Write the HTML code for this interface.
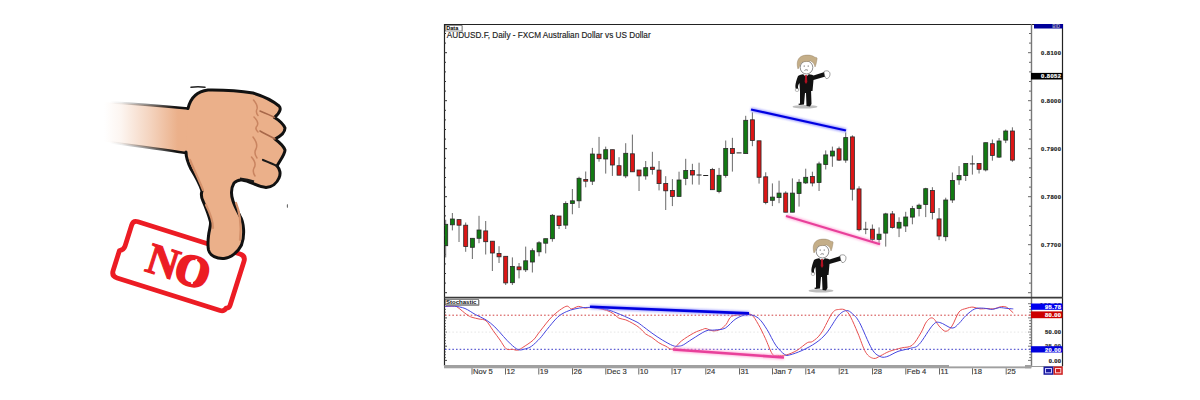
<!DOCTYPE html>
<html><head><meta charset="utf-8">
<style>
html,body{margin:0;padding:0;background:#fff;width:1200px;height:400px;overflow:hidden}
svg{display:block;font-family:"Liberation Sans",sans-serif}
</style></head><body>
<svg width="1200" height="400" viewBox="0 0 1200 400">
<defs>
<linearGradient id="arm" x1="104" y1="0" x2="188" y2="0" gradientUnits="userSpaceOnUse">
<stop offset="0" stop-color="#ebb08a" stop-opacity="0"/>
<stop offset="0.2" stop-color="#ebb08a" stop-opacity="0.12"/>
<stop offset="0.55" stop-color="#ebb08a" stop-opacity="0.55"/>
<stop offset="0.88" stop-color="#ebb08a" stop-opacity="1"/>
<stop offset="1" stop-color="#ebb08a" stop-opacity="1"/>
</linearGradient>
<linearGradient id="armline" x1="110" y1="0" x2="188" y2="0" gradientUnits="userSpaceOnUse">
<stop offset="0" stop-color="#111" stop-opacity="0"/>
<stop offset="0.15" stop-color="#111" stop-opacity="0.08"/>
<stop offset="0.5" stop-color="#111" stop-opacity="0.5"/>
<stop offset="0.85" stop-color="#111" stop-opacity="1"/>
<stop offset="1" stop-color="#111" stop-opacity="1"/>
</linearGradient>
<filter id="glow" x="-5%" y="-50%" width="110%" height="200%"><feGaussianBlur stdDeviation="1.2"/></filter>
<clipPath id="plot"><rect x="445" y="25" width="586" height="272"/></clipPath>
<clipPath id="stoch"><rect x="445" y="299" width="586" height="66"/></clipPath>
</defs>

<!-- ===== STAMP ===== -->
<g transform="translate(179.5,266.3) rotate(17.5)">
<path d="M-53,-30 L54,-30 Q60,-30 60,-24 L60,22 Q60,25 57,26 Q56,30 52,30 L-56,30 Q-62,30 -62,24 L-62,3 Q-58,1 -58,-3 L-58,-25 Q-58,-30 -53,-30 Z" fill="none" stroke="#ec1c24" stroke-width="4.8" stroke-linejoin="round"/>
<text x="-2" y="15" text-anchor="middle" font-family="Liberation Serif" font-weight="bold" font-size="44" letter-spacing="-2" fill="#ec1c24" stroke="#ec1c24" stroke-width="1.1">N<tspan stroke-width="2.6">O</tspan></text>
<line x1="14" y1="-12" x2="17" y2="13" stroke="#fff" stroke-width="1.8"/>
</g>
<!-- ===== HAND ===== -->
<g id="hand">
<path d="M100,102 C130,103.5 160,105.5 188,108 L188,153 C160,149 130,145 100,141 Z" fill="url(#arm)"/>
<path d="M106,102.3 C130,103.5 160,105.8 188,108.5" fill="none" stroke="url(#armline)" stroke-width="2.6"/>
<path d="M106,141.8 C130,145 160,149 186,153" fill="none" stroke="url(#armline)" stroke-width="2.6"/>
<path d="M188,108.5 C190,100 195,91.5 208,90 C225,89.8 241,91 253,93 C263,96 272,100 279,106 C281,108 281,112 274.5,117.5 C279,120 284,125 285,128 C285,131 283,135 275,139 C279,142 284,147 285,150 C285,154 281,159 277,166 C280,169 281,174 279,178 C277,183 272,187 266,187.5 C258,187 250,181 242,180 C238,179.5 236,181 234,183 C231,188 231,195 233,201 C235,207 238,212 240,216 C244,222 245,236 241.5,245 C238,252 231,258 224,258.5 C217,259 210,256 208.5,250 C207.5,245 208,240 208.5,236 C209,230 211,226 210.5,222 C209,216 206,208 203,201 C201,197 201,194 202,191 C200,185 196,177 191,169 C188,163 186,158 186,152" fill="#ebb08a" stroke="#111" stroke-width="3" stroke-linejoin="round" stroke-linecap="round"/>
<path d="M190,160 C194,170 199,180 203,190 M206,205 C210,213 213,220 213,228 M236,203 C239,210 242,224 240,240" fill="none" stroke="#d4916b" stroke-width="2.2" stroke-linecap="round"/>
<path d="M240,178.5 C245,179 250,180 254,181.5" fill="none" stroke="#1a1a1a" stroke-width="2"/>
<path d="M253.5,100 C256,103 258,106 257,109 C256,111 256,113 258,115.5 M254,117 C257,120 259,123 257,126 C255,128 256,130 258,132 M253,137 C256,141 258,145 256,149 C254,152 255,155 257,158 M251.5,157 C255,161 256,165 254,168 C252.5,171 253,173 255,176" fill="none" stroke="#c98460" stroke-width="1.5" stroke-linecap="round"/>
<path d="M260,111 C265,113 270,115 274.5,117.5 M260,131 C265,134 270,136 275,139" fill="none" stroke="#a8684a" stroke-width="1.5" stroke-linecap="round"/>
<path d="M263,160 C268,162 273,164 277,166" fill="none" stroke="#1a1a1a" stroke-width="2.2" stroke-linecap="round"/>
<path d="M191,87.3 C196,86.5 200,86.5 205,87.3" stroke="#222" stroke-width="1.4" fill="none" stroke-linecap="round"/>

</g>

<ellipse cx="287.4" cy="206" rx="0.6" ry="2" fill="#666"/>
<!-- ===== CHART ===== -->
<g id="chart">
<!-- frame -->
<line x1="444" y1="24.5" x2="1063" y2="24.5" stroke="#222" stroke-width="1"/>
<line x1="444.5" y1="24" x2="444.5" y2="366" stroke="#222" stroke-width="1.2"/>
<line x1="1031.5" y1="24" x2="1031.5" y2="366" stroke="#777" stroke-width="1.4"/>
<line x1="1062.5" y1="24" x2="1062.5" y2="366" stroke="#222" stroke-width="1.2"/>
<line x1="444" y1="297.7" x2="1063" y2="297.7" stroke="#3a3a3a" stroke-width="1.7"/>
<rect x="444" y="365" width="505" height="3.3" fill="#a0a0a0"/><rect x="949" y="366.4" width="82" height="1.9" fill="#a0a0a0"/><rect x="1025" y="365" width="6.5" height="3.3" fill="#a0a0a0"/><line x1="1031" y1="366.5" x2="1063" y2="366.5" stroke="#999" stroke-width="1"/>
<line x1="444" y1="33.5" x2="446" y2="33.5" stroke="#333" stroke-width="1"/>
<line x1="1029" y1="33.5" x2="1031" y2="33.5" stroke="#666" stroke-width="1"/>
<line x1="444" y1="43.1" x2="446" y2="43.1" stroke="#333" stroke-width="1"/>
<line x1="1029" y1="43.1" x2="1031" y2="43.1" stroke="#666" stroke-width="1"/>
<line x1="444" y1="52.7" x2="447" y2="52.7" stroke="#333" stroke-width="1"/>
<line x1="1028" y1="52.7" x2="1031" y2="52.7" stroke="#666" stroke-width="1"/>
<line x1="444" y1="62.3" x2="446" y2="62.3" stroke="#333" stroke-width="1"/>
<line x1="1029" y1="62.3" x2="1031" y2="62.3" stroke="#666" stroke-width="1"/>
<line x1="444" y1="71.9" x2="446" y2="71.9" stroke="#333" stroke-width="1"/>
<line x1="1029" y1="71.9" x2="1031" y2="71.9" stroke="#666" stroke-width="1"/>
<line x1="444" y1="81.5" x2="446" y2="81.5" stroke="#333" stroke-width="1"/>
<line x1="1029" y1="81.5" x2="1031" y2="81.5" stroke="#666" stroke-width="1"/>
<line x1="444" y1="91.1" x2="446" y2="91.1" stroke="#333" stroke-width="1"/>
<line x1="1029" y1="91.1" x2="1031" y2="91.1" stroke="#666" stroke-width="1"/>
<line x1="444" y1="100.7" x2="447" y2="100.7" stroke="#333" stroke-width="1"/>
<line x1="1028" y1="100.7" x2="1031" y2="100.7" stroke="#666" stroke-width="1"/>
<line x1="444" y1="110.3" x2="446" y2="110.3" stroke="#333" stroke-width="1"/>
<line x1="1029" y1="110.3" x2="1031" y2="110.3" stroke="#666" stroke-width="1"/>
<line x1="444" y1="119.9" x2="446" y2="119.9" stroke="#333" stroke-width="1"/>
<line x1="1029" y1="119.9" x2="1031" y2="119.9" stroke="#666" stroke-width="1"/>
<line x1="444" y1="129.5" x2="446" y2="129.5" stroke="#333" stroke-width="1"/>
<line x1="1029" y1="129.5" x2="1031" y2="129.5" stroke="#666" stroke-width="1"/>
<line x1="444" y1="139.1" x2="446" y2="139.1" stroke="#333" stroke-width="1"/>
<line x1="1029" y1="139.1" x2="1031" y2="139.1" stroke="#666" stroke-width="1"/>
<line x1="444" y1="148.7" x2="447" y2="148.7" stroke="#333" stroke-width="1"/>
<line x1="1028" y1="148.7" x2="1031" y2="148.7" stroke="#666" stroke-width="1"/>
<line x1="444" y1="158.3" x2="446" y2="158.3" stroke="#333" stroke-width="1"/>
<line x1="1029" y1="158.3" x2="1031" y2="158.3" stroke="#666" stroke-width="1"/>
<line x1="444" y1="167.9" x2="446" y2="167.9" stroke="#333" stroke-width="1"/>
<line x1="1029" y1="167.9" x2="1031" y2="167.9" stroke="#666" stroke-width="1"/>
<line x1="444" y1="177.5" x2="446" y2="177.5" stroke="#333" stroke-width="1"/>
<line x1="1029" y1="177.5" x2="1031" y2="177.5" stroke="#666" stroke-width="1"/>
<line x1="444" y1="187.1" x2="446" y2="187.1" stroke="#333" stroke-width="1"/>
<line x1="1029" y1="187.1" x2="1031" y2="187.1" stroke="#666" stroke-width="1"/>
<line x1="444" y1="196.7" x2="447" y2="196.7" stroke="#333" stroke-width="1"/>
<line x1="1028" y1="196.7" x2="1031" y2="196.7" stroke="#666" stroke-width="1"/>
<line x1="444" y1="206.3" x2="446" y2="206.3" stroke="#333" stroke-width="1"/>
<line x1="1029" y1="206.3" x2="1031" y2="206.3" stroke="#666" stroke-width="1"/>
<line x1="444" y1="215.9" x2="446" y2="215.9" stroke="#333" stroke-width="1"/>
<line x1="1029" y1="215.9" x2="1031" y2="215.9" stroke="#666" stroke-width="1"/>
<line x1="444" y1="225.5" x2="446" y2="225.5" stroke="#333" stroke-width="1"/>
<line x1="1029" y1="225.5" x2="1031" y2="225.5" stroke="#666" stroke-width="1"/>
<line x1="444" y1="235.1" x2="446" y2="235.1" stroke="#333" stroke-width="1"/>
<line x1="1029" y1="235.1" x2="1031" y2="235.1" stroke="#666" stroke-width="1"/>
<line x1="444" y1="244.7" x2="447" y2="244.7" stroke="#333" stroke-width="1"/>
<line x1="1028" y1="244.7" x2="1031" y2="244.7" stroke="#666" stroke-width="1"/>
<line x1="444" y1="254.3" x2="446" y2="254.3" stroke="#333" stroke-width="1"/>
<line x1="1029" y1="254.3" x2="1031" y2="254.3" stroke="#666" stroke-width="1"/>
<line x1="444" y1="263.9" x2="446" y2="263.9" stroke="#333" stroke-width="1"/>
<line x1="1029" y1="263.9" x2="1031" y2="263.9" stroke="#666" stroke-width="1"/>
<line x1="444" y1="273.5" x2="446" y2="273.5" stroke="#333" stroke-width="1"/>
<line x1="1029" y1="273.5" x2="1031" y2="273.5" stroke="#666" stroke-width="1"/>
<line x1="444" y1="283.1" x2="446" y2="283.1" stroke="#333" stroke-width="1"/>
<line x1="1029" y1="283.1" x2="1031" y2="283.1" stroke="#666" stroke-width="1"/>
<line x1="444" y1="292.7" x2="447" y2="292.7" stroke="#333" stroke-width="1"/>
<line x1="1028" y1="292.7" x2="1031" y2="292.7" stroke="#666" stroke-width="1"/>
<line x1="444" y1="303.7" x2="447" y2="303.7" stroke="#333" stroke-width="0.9"/>
<line x1="1028" y1="303.7" x2="1031" y2="303.7" stroke="#666" stroke-width="0.9"/>
<line x1="444" y1="306.5" x2="445.8" y2="306.5" stroke="#333" stroke-width="0.9"/>
<line x1="1029.2" y1="306.5" x2="1031" y2="306.5" stroke="#666" stroke-width="0.9"/>
<line x1="444" y1="309.4" x2="445.8" y2="309.4" stroke="#333" stroke-width="0.9"/>
<line x1="1029.2" y1="309.4" x2="1031" y2="309.4" stroke="#666" stroke-width="0.9"/>
<line x1="444" y1="312.2" x2="445.8" y2="312.2" stroke="#333" stroke-width="0.9"/>
<line x1="1029.2" y1="312.2" x2="1031" y2="312.2" stroke="#666" stroke-width="0.9"/>
<line x1="444" y1="315.0" x2="445.8" y2="315.0" stroke="#333" stroke-width="0.9"/>
<line x1="1029.2" y1="315.0" x2="1031" y2="315.0" stroke="#666" stroke-width="0.9"/>
<line x1="444" y1="317.9" x2="447" y2="317.9" stroke="#333" stroke-width="0.9"/>
<line x1="1028" y1="317.9" x2="1031" y2="317.9" stroke="#666" stroke-width="0.9"/>
<line x1="444" y1="320.7" x2="445.8" y2="320.7" stroke="#333" stroke-width="0.9"/>
<line x1="1029.2" y1="320.7" x2="1031" y2="320.7" stroke="#666" stroke-width="0.9"/>
<line x1="444" y1="323.5" x2="445.8" y2="323.5" stroke="#333" stroke-width="0.9"/>
<line x1="1029.2" y1="323.5" x2="1031" y2="323.5" stroke="#666" stroke-width="0.9"/>
<line x1="444" y1="326.4" x2="445.8" y2="326.4" stroke="#333" stroke-width="0.9"/>
<line x1="1029.2" y1="326.4" x2="1031" y2="326.4" stroke="#666" stroke-width="0.9"/>
<line x1="444" y1="329.2" x2="445.8" y2="329.2" stroke="#333" stroke-width="0.9"/>
<line x1="1029.2" y1="329.2" x2="1031" y2="329.2" stroke="#666" stroke-width="0.9"/>
<line x1="444" y1="332.1" x2="447" y2="332.1" stroke="#333" stroke-width="0.9"/>
<line x1="1028" y1="332.1" x2="1031" y2="332.1" stroke="#666" stroke-width="0.9"/>
<line x1="444" y1="334.9" x2="445.8" y2="334.9" stroke="#333" stroke-width="0.9"/>
<line x1="1029.2" y1="334.9" x2="1031" y2="334.9" stroke="#666" stroke-width="0.9"/>
<line x1="444" y1="337.7" x2="445.8" y2="337.7" stroke="#333" stroke-width="0.9"/>
<line x1="1029.2" y1="337.7" x2="1031" y2="337.7" stroke="#666" stroke-width="0.9"/>
<line x1="444" y1="340.6" x2="445.8" y2="340.6" stroke="#333" stroke-width="0.9"/>
<line x1="1029.2" y1="340.6" x2="1031" y2="340.6" stroke="#666" stroke-width="0.9"/>
<line x1="444" y1="343.4" x2="445.8" y2="343.4" stroke="#333" stroke-width="0.9"/>
<line x1="1029.2" y1="343.4" x2="1031" y2="343.4" stroke="#666" stroke-width="0.9"/>
<line x1="444" y1="346.2" x2="447" y2="346.2" stroke="#333" stroke-width="0.9"/>
<line x1="1028" y1="346.2" x2="1031" y2="346.2" stroke="#666" stroke-width="0.9"/>
<line x1="444" y1="349.1" x2="445.8" y2="349.1" stroke="#333" stroke-width="0.9"/>
<line x1="1029.2" y1="349.1" x2="1031" y2="349.1" stroke="#666" stroke-width="0.9"/>
<line x1="444" y1="351.9" x2="445.8" y2="351.9" stroke="#333" stroke-width="0.9"/>
<line x1="1029.2" y1="351.9" x2="1031" y2="351.9" stroke="#666" stroke-width="0.9"/>
<line x1="444" y1="354.7" x2="445.8" y2="354.7" stroke="#333" stroke-width="0.9"/>
<line x1="1029.2" y1="354.7" x2="1031" y2="354.7" stroke="#666" stroke-width="0.9"/>
<line x1="444" y1="357.6" x2="445.8" y2="357.6" stroke="#333" stroke-width="0.9"/>
<line x1="1029.2" y1="357.6" x2="1031" y2="357.6" stroke="#666" stroke-width="0.9"/>
<line x1="444" y1="360.4" x2="447" y2="360.4" stroke="#333" stroke-width="0.9"/>
<line x1="1028" y1="360.4" x2="1031" y2="360.4" stroke="#666" stroke-width="0.9"/>
<!-- Data box -->
<rect x="445.5" y="25.5" width="16.5" height="5.5" fill="#fff" stroke="#666" stroke-width="0.7"/>
<line x1="462.5" y1="26" x2="462.5" y2="31.5" stroke="#999" stroke-width="0.8"/>
<text x="446.2" y="30.3" font-size="5.6" font-weight="bold" fill="#000">Data</text>
<text x="446.8" y="38" font-size="8.2" fill="#222" stroke="#222" stroke-width="0.15">AUDUSD.F, Daily - FXCM Australian Dollar vs US Dollar</text>
<!-- price labels -->
<rect x="1034" y="24" width="29" height="4.5" fill="#000099"/>
<text x="1060" y="28.2" font-size="4.5" font-weight="bold" fill="#aab" text-anchor="end">BID</text>
<g font-size="5.8" font-weight="bold" fill="#222" text-anchor="end" stroke="#222" stroke-width="0.2">
<text x="1061" y="54.7" textLength="20" lengthAdjust="spacing">0.8100</text>
<text x="1061" y="102.7" textLength="20" lengthAdjust="spacing">0.8000</text>
<text x="1061" y="150.7" textLength="20" lengthAdjust="spacing">0.7900</text>
<text x="1061" y="198.7" textLength="20" lengthAdjust="spacing">0.7800</text>
<text x="1061" y="246.7" textLength="20" lengthAdjust="spacing">0.7700</text>
</g>
<rect x="1031" y="72.9" width="31.5" height="6.6" fill="#000"/>
<text x="1061" y="78.4" font-size="5.8" font-weight="bold" fill="#fff" stroke="#fff" stroke-width="0.2" text-anchor="end" textLength="20" lengthAdjust="spacing">0.8052</text>

<g clip-path="url(#plot)">
<line x1="445.70" y1="219.8" x2="445.70" y2="257.4" stroke="#6a6a6a" stroke-width="1"/>
<rect x="443.70" y="224.3" width="4" height="21.4" fill="#127a12" stroke="#2a2a2a" stroke-width="0.8"/>
<line x1="452.37" y1="213.0" x2="452.37" y2="230.4" stroke="#6a6a6a" stroke-width="1"/>
<rect x="450.37" y="219.0" width="4" height="5.8" fill="#127a12" stroke="#2a2a2a" stroke-width="0.8"/>
<line x1="459.03" y1="219.6" x2="459.03" y2="242.0" stroke="#6a6a6a" stroke-width="1"/>
<rect x="457.03" y="219.6" width="4" height="5.6" fill="#dc1616" stroke="#2a2a2a" stroke-width="0.8"/>
<line x1="465.70" y1="222.5" x2="465.70" y2="251.8" stroke="#6a6a6a" stroke-width="1"/>
<rect x="463.70" y="225.2" width="4" height="21.4" fill="#dc1616" stroke="#2a2a2a" stroke-width="0.8"/>
<line x1="472.37" y1="238.3" x2="472.37" y2="259.0" stroke="#6a6a6a" stroke-width="1"/>
<rect x="470.37" y="238.3" width="4" height="9.0" fill="#127a12" stroke="#2a2a2a" stroke-width="0.8"/>
<line x1="479.03" y1="215.8" x2="479.03" y2="243.2" stroke="#6a6a6a" stroke-width="1"/>
<rect x="477.03" y="230.0" width="4" height="8.3" fill="#127a12" stroke="#2a2a2a" stroke-width="0.8"/>
<line x1="485.70" y1="221.0" x2="485.70" y2="254.5" stroke="#6a6a6a" stroke-width="1"/>
<rect x="483.70" y="230.9" width="4" height="10.8" fill="#dc1616" stroke="#2a2a2a" stroke-width="0.8"/>
<line x1="492.37" y1="241.0" x2="492.37" y2="271.0" stroke="#6a6a6a" stroke-width="1"/>
<rect x="490.37" y="241.2" width="4" height="11.8" fill="#dc1616" stroke="#2a2a2a" stroke-width="0.8"/>
<line x1="499.04" y1="246.2" x2="499.04" y2="263.0" stroke="#6a6a6a" stroke-width="1"/>
<rect x="497.04" y="253.4" width="4" height="3.4" fill="#dc1616" stroke="#2a2a2a" stroke-width="0.8"/>
<line x1="505.70" y1="256.3" x2="505.70" y2="285.0" stroke="#6a6a6a" stroke-width="1"/>
<rect x="503.70" y="256.3" width="4" height="26.6" fill="#dc1616" stroke="#2a2a2a" stroke-width="0.8"/>
<line x1="512.37" y1="257.4" x2="512.37" y2="285.0" stroke="#6a6a6a" stroke-width="1"/>
<rect x="510.37" y="266.4" width="4" height="16.3" fill="#127a12" stroke="#2a2a2a" stroke-width="0.8"/>
<line x1="519.04" y1="263.0" x2="519.04" y2="278.4" stroke="#6a6a6a" stroke-width="1"/>
<rect x="517.04" y="266.9" width="4" height="2.9" fill="#dc1616" stroke="#2a2a2a" stroke-width="0.8"/>
<line x1="525.70" y1="246.6" x2="525.70" y2="272.0" stroke="#6a6a6a" stroke-width="1"/>
<rect x="523.70" y="260.8" width="4" height="9.0" fill="#127a12" stroke="#2a2a2a" stroke-width="0.8"/>
<line x1="532.37" y1="248.4" x2="532.37" y2="272.5" stroke="#6a6a6a" stroke-width="1"/>
<rect x="530.37" y="250.7" width="4" height="11.3" fill="#127a12" stroke="#2a2a2a" stroke-width="0.8"/>
<line x1="539.04" y1="241.2" x2="539.04" y2="256.3" stroke="#6a6a6a" stroke-width="1"/>
<rect x="537.04" y="242.8" width="4" height="9.0" fill="#127a12" stroke="#2a2a2a" stroke-width="0.8"/>
<line x1="545.70" y1="238.7" x2="545.70" y2="253.4" stroke="#6a6a6a" stroke-width="1"/>
<rect x="543.70" y="238.7" width="4" height="4.5" fill="#127a12" stroke="#2a2a2a" stroke-width="0.8"/>
<line x1="552.37" y1="214.0" x2="552.37" y2="241.7" stroke="#6a6a6a" stroke-width="1"/>
<rect x="550.37" y="215.3" width="4" height="23.4" fill="#127a12" stroke="#2a2a2a" stroke-width="0.8"/>
<line x1="559.04" y1="216.0" x2="559.04" y2="229.0" stroke="#6a6a6a" stroke-width="1"/>
<rect x="557.04" y="216.0" width="4" height="9.6" fill="#dc1616" stroke="#2a2a2a" stroke-width="0.8"/>
<line x1="565.71" y1="201.3" x2="565.71" y2="229.0" stroke="#6a6a6a" stroke-width="1"/>
<rect x="563.71" y="203.5" width="4" height="21.6" fill="#127a12" stroke="#2a2a2a" stroke-width="0.8"/>
<line x1="572.37" y1="189.0" x2="572.37" y2="214.3" stroke="#6a6a6a" stroke-width="1"/>
<rect x="570.37" y="200.8" width="4" height="2.7" fill="#127a12" stroke="#2a2a2a" stroke-width="0.8"/>
<line x1="579.04" y1="176.7" x2="579.04" y2="208.0" stroke="#6a6a6a" stroke-width="1"/>
<rect x="577.04" y="178.3" width="4" height="22.5" fill="#127a12" stroke="#2a2a2a" stroke-width="0.8"/>
<line x1="585.71" y1="171.5" x2="585.71" y2="187.3" stroke="#6a6a6a" stroke-width="1"/>
<rect x="583.71" y="179.4" width="4" height="1.8" fill="#dc1616" stroke="#2a2a2a" stroke-width="0.8"/>
<line x1="592.37" y1="147.9" x2="592.37" y2="185.0" stroke="#6a6a6a" stroke-width="1"/>
<rect x="590.37" y="154.0" width="4" height="27.2" fill="#127a12" stroke="#2a2a2a" stroke-width="0.8"/>
<line x1="599.04" y1="136.9" x2="599.04" y2="161.7" stroke="#6a6a6a" stroke-width="1"/>
<rect x="597.04" y="154.2" width="4" height="4.5" fill="#dc1616" stroke="#2a2a2a" stroke-width="0.8"/>
<line x1="605.71" y1="146.6" x2="605.71" y2="173.6" stroke="#6a6a6a" stroke-width="1"/>
<rect x="603.71" y="149.7" width="4" height="9.3" fill="#127a12" stroke="#2a2a2a" stroke-width="0.8"/>
<line x1="612.38" y1="149.7" x2="612.38" y2="175.9" stroke="#6a6a6a" stroke-width="1"/>
<rect x="610.38" y="149.7" width="4" height="15.3" fill="#dc1616" stroke="#2a2a2a" stroke-width="0.8"/>
<line x1="619.04" y1="157.2" x2="619.04" y2="175.2" stroke="#6a6a6a" stroke-width="1"/>
<rect x="617.04" y="165.7" width="4" height="9.5" fill="#dc1616" stroke="#2a2a2a" stroke-width="0.8"/>
<line x1="625.71" y1="143.2" x2="625.71" y2="178.1" stroke="#6a6a6a" stroke-width="1"/>
<rect x="623.71" y="153.3" width="4" height="22.6" fill="#127a12" stroke="#2a2a2a" stroke-width="0.8"/>
<line x1="632.38" y1="134.6" x2="632.38" y2="171.8" stroke="#6a6a6a" stroke-width="1"/>
<rect x="630.38" y="153.8" width="4" height="18.0" fill="#dc1616" stroke="#2a2a2a" stroke-width="0.8"/>
<line x1="639.04" y1="170.0" x2="639.04" y2="191.0" stroke="#6a6a6a" stroke-width="1"/>
<rect x="637.04" y="170.0" width="4" height="5.9" fill="#dc1616" stroke="#2a2a2a" stroke-width="0.8"/>
<line x1="645.71" y1="161.0" x2="645.71" y2="179.7" stroke="#6a6a6a" stroke-width="1"/>
<rect x="643.71" y="167.7" width="4" height="8.2" fill="#127a12" stroke="#2a2a2a" stroke-width="0.8"/>
<line x1="652.38" y1="151.8" x2="652.38" y2="174.6" stroke="#6a6a6a" stroke-width="1"/>
<rect x="650.38" y="167.2" width="4" height="2.2" fill="#dc1616" stroke="#2a2a2a" stroke-width="0.8"/>
<line x1="659.04" y1="161.0" x2="659.04" y2="190.4" stroke="#6a6a6a" stroke-width="1"/>
<rect x="657.04" y="170.1" width="4" height="13.5" fill="#dc1616" stroke="#2a2a2a" stroke-width="0.8"/>
<line x1="665.71" y1="176.2" x2="665.71" y2="210.0" stroke="#6a6a6a" stroke-width="1"/>
<rect x="663.71" y="183.4" width="4" height="7.4" fill="#dc1616" stroke="#2a2a2a" stroke-width="0.8"/>
<line x1="672.38" y1="179.1" x2="672.38" y2="206.1" stroke="#6a6a6a" stroke-width="1"/>
<rect x="670.38" y="190.4" width="4" height="6.0" fill="#dc1616" stroke="#2a2a2a" stroke-width="0.8"/>
<line x1="679.04" y1="171.7" x2="679.04" y2="196.4" stroke="#6a6a6a" stroke-width="1"/>
<rect x="677.04" y="180.0" width="4" height="16.4" fill="#127a12" stroke="#2a2a2a" stroke-width="0.8"/>
<line x1="685.71" y1="158.8" x2="685.71" y2="185.2" stroke="#6a6a6a" stroke-width="1"/>
<rect x="683.71" y="170.5" width="4" height="7.9" fill="#127a12" stroke="#2a2a2a" stroke-width="0.8"/>
<line x1="692.38" y1="163.8" x2="692.38" y2="184.5" stroke="#6a6a6a" stroke-width="1"/>
<rect x="690.38" y="170.5" width="4" height="4.5" fill="#dc1616" stroke="#2a2a2a" stroke-width="0.8"/>
<line x1="699.05" y1="162.7" x2="699.05" y2="184.7" stroke="#6a6a6a" stroke-width="1"/>
<line x1="696.55" y1="175.0" x2="701.55" y2="175.0" stroke="#222" stroke-width="1"/>
<line x1="703.21" y1="175.5" x2="708.21" y2="175.5" stroke="#222" stroke-width="1"/>
<line x1="712.38" y1="167.9" x2="712.38" y2="189.7" stroke="#6a6a6a" stroke-width="1"/>
<rect x="710.38" y="169.5" width="4" height="20.2" fill="#dc1616" stroke="#2a2a2a" stroke-width="0.8"/>
<line x1="719.05" y1="167.9" x2="719.05" y2="193.3" stroke="#6a6a6a" stroke-width="1"/>
<rect x="717.05" y="175.3" width="4" height="16.2" fill="#127a12" stroke="#2a2a2a" stroke-width="0.8"/>
<line x1="725.71" y1="140.5" x2="725.71" y2="177.7" stroke="#6a6a6a" stroke-width="1"/>
<rect x="723.71" y="148.4" width="4" height="27.1" fill="#127a12" stroke="#2a2a2a" stroke-width="0.8"/>
<line x1="732.38" y1="137.8" x2="732.38" y2="171.6" stroke="#6a6a6a" stroke-width="1"/>
<rect x="730.38" y="148.4" width="4" height="5.2" fill="#dc1616" stroke="#2a2a2a" stroke-width="0.8"/>
<line x1="736.55" y1="152.9" x2="741.55" y2="152.9" stroke="#222" stroke-width="1"/>
<line x1="745.71" y1="115.8" x2="745.71" y2="153.6" stroke="#6a6a6a" stroke-width="1"/>
<rect x="743.71" y="120.3" width="4" height="33.3" fill="#127a12" stroke="#2a2a2a" stroke-width="0.8"/>
<line x1="752.38" y1="112.4" x2="752.38" y2="146.2" stroke="#6a6a6a" stroke-width="1"/>
<rect x="750.38" y="119.8" width="4" height="20.7" fill="#dc1616" stroke="#2a2a2a" stroke-width="0.8"/>
<line x1="759.05" y1="140.8" x2="759.05" y2="183.6" stroke="#6a6a6a" stroke-width="1"/>
<rect x="757.05" y="140.8" width="4" height="36.5" fill="#dc1616" stroke="#2a2a2a" stroke-width="0.8"/>
<line x1="765.72" y1="172.3" x2="765.72" y2="204.3" stroke="#6a6a6a" stroke-width="1"/>
<rect x="763.72" y="176.8" width="4" height="25.7" fill="#dc1616" stroke="#2a2a2a" stroke-width="0.8"/>
<line x1="772.38" y1="183.4" x2="772.38" y2="206.1" stroke="#6a6a6a" stroke-width="1"/>
<rect x="770.38" y="197.1" width="4" height="3.2" fill="#127a12" stroke="#2a2a2a" stroke-width="0.8"/>
<line x1="779.05" y1="180.7" x2="779.05" y2="203.2" stroke="#6a6a6a" stroke-width="1"/>
<rect x="777.05" y="193.1" width="4" height="4.5" fill="#127a12" stroke="#2a2a2a" stroke-width="0.8"/>
<line x1="785.72" y1="191.3" x2="785.72" y2="212.2" stroke="#6a6a6a" stroke-width="1"/>
<rect x="783.72" y="193.1" width="4" height="19.1" fill="#dc1616" stroke="#2a2a2a" stroke-width="0.8"/>
<line x1="792.38" y1="178.4" x2="792.38" y2="212.2" stroke="#6a6a6a" stroke-width="1"/>
<rect x="790.38" y="193.1" width="4" height="19.1" fill="#127a12" stroke="#2a2a2a" stroke-width="0.8"/>
<line x1="799.05" y1="179.1" x2="799.05" y2="206.6" stroke="#6a6a6a" stroke-width="1"/>
<rect x="797.05" y="182.3" width="4" height="11.2" fill="#127a12" stroke="#2a2a2a" stroke-width="0.8"/>
<line x1="805.72" y1="168.7" x2="805.72" y2="184.0" stroke="#6a6a6a" stroke-width="1"/>
<rect x="803.72" y="177.3" width="4" height="5.6" fill="#127a12" stroke="#2a2a2a" stroke-width="0.8"/>
<line x1="812.38" y1="171.7" x2="812.38" y2="186.4" stroke="#6a6a6a" stroke-width="1"/>
<rect x="810.38" y="176.5" width="4" height="6.5" fill="#dc1616" stroke="#2a2a2a" stroke-width="0.8"/>
<line x1="819.05" y1="161.7" x2="819.05" y2="191.0" stroke="#6a6a6a" stroke-width="1"/>
<rect x="817.05" y="163.9" width="4" height="18.7" fill="#127a12" stroke="#2a2a2a" stroke-width="0.8"/>
<line x1="825.72" y1="150.4" x2="825.72" y2="169.5" stroke="#6a6a6a" stroke-width="1"/>
<rect x="823.72" y="154.9" width="4" height="9.7" fill="#127a12" stroke="#2a2a2a" stroke-width="0.8"/>
<line x1="832.39" y1="146.6" x2="832.39" y2="166.8" stroke="#6a6a6a" stroke-width="1"/>
<rect x="830.39" y="151.1" width="4" height="4.9" fill="#127a12" stroke="#2a2a2a" stroke-width="0.8"/>
<line x1="839.05" y1="146.6" x2="839.05" y2="161.0" stroke="#6a6a6a" stroke-width="1"/>
<rect x="837.05" y="148.8" width="4" height="11.3" fill="#dc1616" stroke="#2a2a2a" stroke-width="0.8"/>
<line x1="845.72" y1="132.4" x2="845.72" y2="162.8" stroke="#6a6a6a" stroke-width="1"/>
<rect x="843.72" y="137.6" width="4" height="22.5" fill="#127a12" stroke="#2a2a2a" stroke-width="0.8"/>
<line x1="852.39" y1="135.3" x2="852.39" y2="200.5" stroke="#6a6a6a" stroke-width="1"/>
<rect x="850.39" y="136.9" width="4" height="52.3" fill="#dc1616" stroke="#2a2a2a" stroke-width="0.8"/>
<line x1="859.05" y1="186.3" x2="859.05" y2="231.3" stroke="#6a6a6a" stroke-width="1"/>
<rect x="857.05" y="188.9" width="4" height="40.8" fill="#dc1616" stroke="#2a2a2a" stroke-width="0.8"/>
<line x1="865.72" y1="221.8" x2="865.72" y2="234.2" stroke="#6a6a6a" stroke-width="1"/>
<line x1="863.22" y1="229.2" x2="868.22" y2="229.2" stroke="#222" stroke-width="1"/>
<line x1="872.39" y1="224.5" x2="872.39" y2="241.6" stroke="#6a6a6a" stroke-width="1"/>
<rect x="870.39" y="229.2" width="4" height="10.2" fill="#dc1616" stroke="#2a2a2a" stroke-width="0.8"/>
<line x1="879.05" y1="227.4" x2="879.05" y2="243.2" stroke="#6a6a6a" stroke-width="1"/>
<rect x="877.05" y="234.2" width="4" height="5.2" fill="#127a12" stroke="#2a2a2a" stroke-width="0.8"/>
<line x1="885.72" y1="212.8" x2="885.72" y2="246.6" stroke="#6a6a6a" stroke-width="1"/>
<rect x="883.72" y="213.9" width="4" height="19.2" fill="#127a12" stroke="#2a2a2a" stroke-width="0.8"/>
<line x1="892.39" y1="211.0" x2="892.39" y2="228.6" stroke="#6a6a6a" stroke-width="1"/>
<rect x="890.39" y="213.9" width="4" height="13.5" fill="#dc1616" stroke="#2a2a2a" stroke-width="0.8"/>
<line x1="899.06" y1="217.3" x2="899.06" y2="237.1" stroke="#6a6a6a" stroke-width="1"/>
<rect x="897.06" y="222.3" width="4" height="5.8" fill="#127a12" stroke="#2a2a2a" stroke-width="0.8"/>
<line x1="905.72" y1="211.8" x2="905.72" y2="232.0" stroke="#6a6a6a" stroke-width="1"/>
<rect x="903.72" y="217.0" width="4" height="9.0" fill="#127a12" stroke="#2a2a2a" stroke-width="0.8"/>
<line x1="912.39" y1="205.9" x2="912.39" y2="224.3" stroke="#6a6a6a" stroke-width="1"/>
<rect x="910.39" y="208.6" width="4" height="8.5" fill="#127a12" stroke="#2a2a2a" stroke-width="0.8"/>
<line x1="919.06" y1="203.6" x2="919.06" y2="216.4" stroke="#6a6a6a" stroke-width="1"/>
<rect x="917.06" y="205.2" width="4" height="3.4" fill="#127a12" stroke="#2a2a2a" stroke-width="0.8"/>
<line x1="925.72" y1="187.8" x2="925.72" y2="217.1" stroke="#6a6a6a" stroke-width="1"/>
<rect x="923.72" y="188.7" width="4" height="15.8" fill="#127a12" stroke="#2a2a2a" stroke-width="0.8"/>
<line x1="932.39" y1="187.2" x2="932.39" y2="219.4" stroke="#6a6a6a" stroke-width="1"/>
<rect x="930.39" y="190.5" width="4" height="22.1" fill="#dc1616" stroke="#2a2a2a" stroke-width="0.8"/>
<line x1="939.06" y1="208.0" x2="939.06" y2="240.1" stroke="#6a6a6a" stroke-width="1"/>
<rect x="937.06" y="218.9" width="4" height="17.1" fill="#dc1616" stroke="#2a2a2a" stroke-width="0.8"/>
<line x1="945.72" y1="197.7" x2="945.72" y2="241.2" stroke="#6a6a6a" stroke-width="1"/>
<rect x="943.72" y="200.0" width="4" height="36.7" fill="#127a12" stroke="#2a2a2a" stroke-width="0.8"/>
<line x1="952.39" y1="172.5" x2="952.39" y2="202.9" stroke="#6a6a6a" stroke-width="1"/>
<rect x="950.39" y="180.4" width="4" height="19.6" fill="#127a12" stroke="#2a2a2a" stroke-width="0.8"/>
<line x1="959.06" y1="166.1" x2="959.06" y2="184.8" stroke="#6a6a6a" stroke-width="1"/>
<rect x="957.06" y="175.4" width="4" height="4.4" fill="#127a12" stroke="#2a2a2a" stroke-width="0.8"/>
<line x1="965.73" y1="163.5" x2="965.73" y2="181.0" stroke="#6a6a6a" stroke-width="1"/>
<rect x="963.73" y="163.5" width="4" height="12.1" fill="#127a12" stroke="#2a2a2a" stroke-width="0.8"/>
<line x1="972.39" y1="155.4" x2="972.39" y2="174.6" stroke="#6a6a6a" stroke-width="1"/>
<line x1="969.89" y1="163.9" x2="974.89" y2="163.9" stroke="#222" stroke-width="1"/>
<line x1="979.06" y1="163.5" x2="979.06" y2="173.5" stroke="#6a6a6a" stroke-width="1"/>
<rect x="977.06" y="163.5" width="4" height="5.8" fill="#dc1616" stroke="#2a2a2a" stroke-width="0.8"/>
<line x1="985.73" y1="142.7" x2="985.73" y2="171.4" stroke="#6a6a6a" stroke-width="1"/>
<rect x="983.73" y="142.7" width="4" height="27.2" fill="#127a12" stroke="#2a2a2a" stroke-width="0.8"/>
<line x1="992.39" y1="139.5" x2="992.39" y2="160.7" stroke="#6a6a6a" stroke-width="1"/>
<rect x="990.39" y="143.7" width="4" height="11.7" fill="#dc1616" stroke="#2a2a2a" stroke-width="0.8"/>
<line x1="999.06" y1="138.0" x2="999.06" y2="158.0" stroke="#6a6a6a" stroke-width="1"/>
<rect x="997.06" y="141.0" width="4" height="16.1" fill="#127a12" stroke="#2a2a2a" stroke-width="0.8"/>
<line x1="1005.73" y1="129.5" x2="1005.73" y2="143.1" stroke="#6a6a6a" stroke-width="1"/>
<rect x="1003.73" y="131.0" width="4" height="9.1" fill="#127a12" stroke="#2a2a2a" stroke-width="0.8"/>
<line x1="1012.39" y1="127.3" x2="1012.39" y2="161.8" stroke="#6a6a6a" stroke-width="1"/>
<rect x="1010.39" y="131.0" width="4" height="29.1" fill="#dc1616" stroke="#2a2a2a" stroke-width="0.8"/>
</g>
<!-- trend lines main -->
<line x1="751" y1="109.5" x2="846" y2="130.5" stroke="#6f6fff" stroke-width="4" filter="url(#glow)" opacity="0.7"/>
<line x1="751" y1="109.5" x2="846" y2="130.5" stroke="#0000e0" stroke-width="2.2"/>
<line x1="786" y1="216" x2="880" y2="244.3" stroke="#ff9ad0" stroke-width="4" filter="url(#glow)" opacity="0.7"/>
<line x1="786" y1="216" x2="880" y2="244.3" stroke="#e8409a" stroke-width="2.2"/>

<!-- stochastic panel -->
<g clip-path="url(#stoch)">
<line x1="445" y1="315.2" x2="1031" y2="315.2" stroke="#d04040" stroke-width="1" stroke-dasharray="1.6,2.07"/>
<line x1="445" y1="332.1" x2="1031" y2="332.1" stroke="#e6e6e6" stroke-width="1" stroke-dasharray="1.6,2.07"/>
<line x1="445" y1="349.3" x2="1031" y2="349.3" stroke="#3a3ac8" stroke-width="1" stroke-dasharray="1.6,2.07"/>
<path d="M444.0,306.4 C445.8,306.4 452.2,306.0 454.5,306.2 C456.8,306.4 455.9,306.2 458.0,307.6 C460.1,309.0 464.5,313.0 466.8,314.6 C469.1,316.2 470.0,316.6 472.0,317.3 C474.0,318.0 476.7,318.4 479.0,319.0 C481.3,319.6 483.7,318.9 486.0,320.8 C488.3,322.7 490.7,327.2 493.0,330.4 C495.3,333.6 497.8,336.9 500.0,340.0 C502.2,343.1 504.1,347.2 506.2,348.8 C508.2,350.4 510.4,349.1 512.3,349.3 C514.2,349.5 515.9,350.5 517.6,350.2 C519.4,349.9 520.2,349.1 522.8,347.4 C525.4,345.7 530.4,342.7 533.3,340.0 C536.2,337.3 536.8,335.2 540.0,331.3 C543.2,327.4 548.0,320.5 552.3,316.4 C556.6,312.2 562.7,307.6 565.9,306.4 C569.1,305.1 569.4,308.9 571.5,308.9 C573.6,308.9 576.2,306.5 578.5,306.4 C580.8,306.3 583.5,308.1 585.5,308.2 C587.5,308.3 588.8,307.1 590.8,307.1 C592.8,307.2 595.2,308.0 597.8,308.5 C600.4,309.0 603.9,309.4 606.5,310.3 C609.1,311.2 611.6,312.5 613.6,313.8 C615.6,315.1 616.8,317.1 618.8,318.1 C620.8,319.1 623.5,319.0 625.8,319.9 C628.1,320.8 630.5,322.1 632.8,323.4 C635.1,324.7 637.4,326.1 639.5,327.8 C641.6,329.6 643.6,332.3 645.6,333.9 C647.6,335.5 649.6,335.9 651.8,337.4 C654.0,338.9 656.5,341.2 658.8,342.7 C661.1,344.2 663.5,345.1 665.8,346.2 C668.1,347.3 670.2,350.0 672.8,349.1 C675.4,348.2 678.0,343.6 681.5,340.9 C685.0,338.2 690.3,334.9 693.8,333.0 C697.3,331.1 700.5,330.2 702.5,329.5 C704.5,328.8 704.2,328.4 706.0,328.6 C707.8,328.8 710.7,330.8 713.0,330.9 C715.3,331.0 717.8,330.6 720.0,329.5 C722.2,328.4 724.3,326.5 726.2,324.3 C728.1,322.1 728.7,318.0 731.4,316.4 C734.1,314.8 739.2,314.9 742.5,314.6 C745.8,314.3 748.7,313.0 751.3,314.6 C753.9,316.2 756.0,320.4 758.3,324.3 C760.6,328.2 763.0,333.4 765.3,338.3 C767.6,343.2 770.3,351.1 772.3,354.0 C774.3,356.9 775.2,355.2 777.5,355.4 C779.8,355.5 783.1,355.7 786.3,354.9 C789.5,354.1 793.3,352.5 796.8,350.5 C800.3,348.5 804.7,344.2 807.3,342.7 C809.9,341.2 810.3,343.0 812.6,341.4 C814.9,339.8 818.0,337.8 821.3,333.0 C824.6,328.2 829.4,316.8 832.4,312.9 C835.4,309.0 837.2,309.8 839.4,309.4 C841.6,309.0 843.6,309.0 845.5,310.3 C847.4,311.6 848.8,313.5 850.8,317.3 C852.8,321.1 855.3,327.2 857.8,333.0 C860.3,338.8 863.1,348.1 865.7,352.3 C868.3,356.5 871.0,357.8 873.5,358.4 C876.0,359.0 877.9,357.0 880.5,355.8 C883.1,354.6 885.8,352.7 889.3,351.4 C892.8,350.1 897.8,348.9 901.6,347.9 C905.4,346.9 908.9,347.8 912.1,345.3 C915.3,342.8 918.4,336.9 920.8,333.0 C923.2,329.1 924.6,324.1 926.6,321.6 C928.6,319.1 930.6,317.2 932.8,318.1 C935.0,319.0 937.6,324.7 939.8,326.9 C942.0,329.1 943.9,331.4 945.9,331.3 C947.9,331.2 949.8,329.2 952.0,326.0 C954.2,322.8 956.7,314.9 959.0,312.0 C961.3,309.1 963.7,309.3 966.0,308.5 C968.3,307.7 970.7,307.0 973.0,307.1 C975.3,307.2 977.7,308.7 980.0,308.9 C982.3,309.1 984.7,308.5 987.0,308.5 C989.3,308.5 991.8,309.2 994.0,308.9 C996.2,308.6 998.2,307.1 1000.2,306.8 C1002.2,306.5 1004.1,306.1 1006.3,307.1 C1008.5,308.1 1012.1,311.9 1013.3,312.9" fill="none" stroke="#e85050" stroke-width="1"/>
<path d="M444.0,306.4 C445.8,306.4 451.0,305.8 454.5,306.2 C458.0,306.6 461.5,307.1 465.0,308.5 C468.5,309.9 472.0,312.7 475.5,314.6 C479.0,316.5 482.8,317.8 486.0,319.9 C489.2,321.9 491.9,324.1 494.8,326.9 C497.7,329.7 500.9,333.7 503.5,336.5 C506.1,339.3 508.0,341.7 510.5,343.9 C513.0,346.1 515.9,348.9 518.4,349.7 C520.9,350.5 523.2,349.4 525.4,348.8 C527.6,348.2 529.2,347.9 531.6,346.2 C534.0,344.4 537.4,341.1 540.0,338.3 C542.6,335.5 544.1,333.0 547.0,329.5 C549.9,326.0 554.3,320.3 557.5,317.3 C560.7,314.3 563.4,313.1 566.3,311.7 C569.2,310.3 572.1,309.6 575.0,308.9 C577.9,308.2 580.9,307.8 583.8,307.6 C586.7,307.4 588.7,307.3 592.5,307.6 C596.3,307.9 601.8,308.2 606.5,309.4 C611.2,310.6 615.7,312.6 620.6,314.6 C625.5,316.6 632.5,319.9 636.0,321.6 C639.5,323.4 638.7,323.2 641.3,325.1 C643.9,327.0 648.3,330.5 651.8,333.0 C655.3,335.5 658.8,337.9 662.3,340.0 C665.8,342.1 670.2,344.6 672.8,345.6 C675.4,346.6 676.2,346.3 678.0,346.2 C679.8,346.1 681.0,346.1 683.3,344.9 C685.6,343.7 688.2,341.5 692.0,339.2 C695.8,336.9 702.2,332.4 706.0,330.9 C709.8,329.4 711.6,330.5 714.8,330.0 C718.0,329.5 721.8,330.0 725.3,328.1 C728.8,326.2 732.2,320.9 736.0,318.7 C739.8,316.4 744.1,314.7 747.8,314.6 C751.5,314.5 755.1,315.6 758.3,318.1 C761.5,320.6 764.1,325.0 767.0,329.5 C769.9,334.0 772.9,341.2 775.8,345.3 C778.7,349.4 782.2,352.8 784.5,354.4 C786.8,356.0 786.9,355.5 789.8,354.9 C792.7,354.2 797.6,352.5 802.0,350.5 C806.4,348.5 811.9,345.6 816.0,342.7 C820.1,339.8 822.9,337.5 826.6,333.0 C830.4,328.5 835.2,319.2 838.5,315.5 C841.8,311.8 844.1,310.9 846.4,310.6 C848.7,310.3 850.3,311.8 852.5,313.8 C854.7,315.8 856.3,316.7 859.5,322.5 C862.7,328.3 868.4,343.2 871.8,348.8 C875.2,354.4 877.2,355.0 879.7,356.3 C882.2,357.6 883.7,357.5 886.7,356.7 C889.8,355.9 894.1,352.8 898.0,351.4 C901.9,350.0 906.8,349.5 910.3,348.3 C913.8,347.1 915.4,348.3 919.1,344.4 C922.9,340.5 929.3,328.8 932.8,325.1 C936.2,321.5 936.6,322.0 939.8,322.5 C943.0,323.0 948.8,328.0 952.0,328.1 C955.2,328.2 956.7,325.5 959.0,323.4 C961.3,321.3 963.4,317.9 966.0,315.5 C968.6,313.1 971.9,310.1 974.8,308.9 C977.7,307.7 980.6,308.1 983.5,308.2 C986.4,308.3 989.7,309.5 992.3,309.4 C994.9,309.3 996.7,307.8 999.3,307.6 C1001.9,307.5 1005.7,308.3 1008.0,308.5 C1010.3,308.7 1012.4,308.8 1013.3,308.9" fill="none" stroke="#4646e0" stroke-width="1"/>
</g>
<line x1="590" y1="306.8" x2="749" y2="313.4" stroke="#8080ff" stroke-width="4.5" filter="url(#glow)" opacity="0.7"/>
<line x1="590" y1="306.8" x2="749" y2="313.4" stroke="#0000e0" stroke-width="2.6"/>
<line x1="673" y1="349.5" x2="784" y2="357.5" stroke="#ff9ad0" stroke-width="4.5" filter="url(#glow)" opacity="0.7"/>
<line x1="673" y1="349.5" x2="784" y2="357.5" stroke="#e8409a" stroke-width="2.6"/>
<!-- Stochastic box -->
<rect x="445.3" y="299.6" width="33.2" height="5.2" fill="#fff" stroke="#555" stroke-width="0.7"/>
<path d="M479,300 L479,305.4 L446,305.4" fill="none" stroke="#777" stroke-width="0.8"/>
<text x="445.9" y="303.9" font-size="5.9" font-weight="bold" fill="#111" textLength="30.6" lengthAdjust="spacingAndGlyphs">Stochastic</text>
<!-- stoch labels -->
<g font-size="5.8" font-weight="bold" text-anchor="end" stroke-width="0.2">
<text x="1061" y="306.5" fill="#333" stroke="#333" textLength="21" lengthAdjust="spacing">100.00</text>
<rect x="1031" y="303.5" width="31.5" height="6.3" fill="#0000ee"/>
<text x="1061" y="308.9" fill="#fff" stroke="#fff" textLength="16" lengthAdjust="spacing">95.78</text>
<rect x="1031" y="311.4" width="31.5" height="6.8" fill="#cc0000"/>
<text x="1061" y="317" fill="#fff" stroke="#fff" textLength="16" lengthAdjust="spacing">80.00</text>
<text x="1061" y="334.3" fill="#222" stroke="#222" textLength="16" lengthAdjust="spacing">50.00</text>
<text x="1061" y="348.3" fill="#333" stroke="#333" textLength="16" lengthAdjust="spacing">25.00</text>
<rect x="1031" y="346.2" width="31.5" height="6.3" fill="#0000dd"/>
<text x="1061" y="351.7" fill="#fff" stroke="#fff" textLength="16" lengthAdjust="spacing">20.00</text>
<text x="1061" y="363.4" fill="#222" stroke="#222" textLength="12.3" lengthAdjust="spacing">0.00</text>
</g>
<rect x="1043.5" y="366.5" width="10" height="8.3" fill="#1a1aa0"/>
<rect x="1045.5" y="368.5" width="6" height="4.3" fill="none" stroke="#c8c8ff" stroke-width="1"/>
<rect x="1053.5" y="366.5" width="9.3" height="8.3" fill="#cc2020"/>
<rect x="1055.5" y="368.5" width="5.3" height="4.3" fill="none" stroke="#ffd0d0" stroke-width="1"/>
<line x1="472.0" y1="368.3" x2="472.0" y2="374.5" stroke="#666" stroke-width="1"/>
<text x="473.0" y="374" font-size="7.6" fill="#333" stroke="#333" stroke-width="0.15">Nov 5</text>
<line x1="505.5" y1="368.3" x2="505.5" y2="374.5" stroke="#666" stroke-width="1"/>
<text x="506.5" y="374" font-size="7.6" fill="#333" stroke="#333" stroke-width="0.15">12</text>
<line x1="538.8" y1="368.3" x2="538.8" y2="374.5" stroke="#666" stroke-width="1"/>
<text x="539.8" y="374" font-size="7.6" fill="#333" stroke="#333" stroke-width="0.15">19</text>
<line x1="572.5" y1="368.3" x2="572.5" y2="374.5" stroke="#666" stroke-width="1"/>
<text x="573.5" y="374" font-size="7.6" fill="#333" stroke="#333" stroke-width="0.15">26</text>
<line x1="605.8" y1="368.3" x2="605.8" y2="374.5" stroke="#666" stroke-width="1"/>
<text x="606.8" y="374" font-size="7.6" fill="#333" stroke="#333" stroke-width="0.15">Dec 3</text>
<line x1="638.8" y1="368.3" x2="638.8" y2="374.5" stroke="#666" stroke-width="1"/>
<text x="639.8" y="374" font-size="7.6" fill="#333" stroke="#333" stroke-width="0.15">10</text>
<line x1="672.0" y1="368.3" x2="672.0" y2="374.5" stroke="#666" stroke-width="1"/>
<text x="673.0" y="374" font-size="7.6" fill="#333" stroke="#333" stroke-width="0.15">17</text>
<line x1="705.8" y1="368.3" x2="705.8" y2="374.5" stroke="#666" stroke-width="1"/>
<text x="706.8" y="374" font-size="7.6" fill="#333" stroke="#333" stroke-width="0.15">24</text>
<line x1="739.5" y1="368.3" x2="739.5" y2="374.5" stroke="#666" stroke-width="1"/>
<text x="740.5" y="374" font-size="7.6" fill="#333" stroke="#333" stroke-width="0.15">31</text>
<line x1="772.5" y1="368.3" x2="772.5" y2="374.5" stroke="#666" stroke-width="1"/>
<text x="773.5" y="374" font-size="7.6" fill="#333" stroke="#333" stroke-width="0.15">Jan 7</text>
<line x1="805.8" y1="368.3" x2="805.8" y2="374.5" stroke="#666" stroke-width="1"/>
<text x="806.8" y="374" font-size="7.6" fill="#333" stroke="#333" stroke-width="0.15">14</text>
<line x1="839.2" y1="368.3" x2="839.2" y2="374.5" stroke="#666" stroke-width="1"/>
<text x="840.2" y="374" font-size="7.6" fill="#333" stroke="#333" stroke-width="0.15">21</text>
<line x1="872.5" y1="368.3" x2="872.5" y2="374.5" stroke="#666" stroke-width="1"/>
<text x="873.5" y="374" font-size="7.6" fill="#333" stroke="#333" stroke-width="0.15">28</text>
<line x1="905.8" y1="368.3" x2="905.8" y2="374.5" stroke="#666" stroke-width="1"/>
<text x="906.8" y="374" font-size="7.6" fill="#333" stroke="#333" stroke-width="0.15">Feb 4</text>
<line x1="939.5" y1="368.3" x2="939.5" y2="374.5" stroke="#666" stroke-width="1"/>
<text x="940.5" y="374" font-size="7.6" fill="#333" stroke="#333" stroke-width="0.15">11</text>
<line x1="972.5" y1="368.3" x2="972.5" y2="374.5" stroke="#666" stroke-width="1"/>
<text x="973.5" y="374" font-size="7.6" fill="#333" stroke="#333" stroke-width="0.15">18</text>
<line x1="1006.2" y1="368.3" x2="1006.2" y2="374.5" stroke="#666" stroke-width="1"/>
<text x="1007.2" y="374" font-size="7.6" fill="#333" stroke="#333" stroke-width="0.15">25</text>
</g>

<!-- ===== FIGURES ===== -->
<g id="fig1">
<ellipse cx="805" cy="106.8" rx="12.5" ry="1.8" fill="#a8a8a8" opacity="0.75"/>
<path d="M800,89 L811,89 L811.5,104 L810,106.5 L806.5,106 L806,93 L805,93 L804,104.5 L799.5,105 L798,104 L800,103.5 Z" fill="#111"/>
<path d="M798,76 C800.5,74.5 803,74 806,74 C809,74 811.5,74.5 813.5,75.5 L824.5,72 L825.5,76.5 L813.5,80 L812.5,91 L800,91 L799.5,83 C798,85 797.5,87 798.5,89.5 L797,90.5 C794.5,88 795,84 798,76 Z" fill="#111"/>
<ellipse cx="797" cy="90" rx="1.8" ry="1.5" fill="#fff" stroke="#555" stroke-width="0.4"/>
<path d="M824,71.5 C827,70 830,71 830,74 C830,77 828,79 826,78.5 C825,77 824,75 824,71.5 Z" fill="#fff" stroke="#444" stroke-width="0.5"/>
<path d="M803,74 L809,74 L806,77 Z" fill="#fff"/>
<path d="M805.2,75 L806.8,75 L807.3,82 L806,84 L804.7,82 Z" fill="#b01020"/>
<ellipse cx="806.5" cy="67.5" rx="6.3" ry="6.5" fill="#fff" stroke="#444" stroke-width="0.6"/>
<path d="M798,69 C796.5,64 797,59 801,56.5 C805,54.5 811,54.5 814.5,57 C816.5,58 817.5,57 817,59.5 C816.5,61 816.5,64 815,67 C814.5,64 813,62 810.5,61 C808,62 804,61 801.5,62.5 C800,64.5 799.5,67 798,69 Z" fill="#c4ae88" stroke="#8d7a5e" stroke-width="0.4"/>
<circle cx="804.2" cy="66" r="0.6" fill="#333"/><circle cx="808.2" cy="66" r="0.6" fill="#333"/>
<path d="M804.5,70.5 C805.5,69.5 807,69.5 808,70.5" fill="none" stroke="#333" stroke-width="0.6"/>
</g>
<g id="fig2" transform="translate(16,184)">
<ellipse cx="805" cy="106.8" rx="12.5" ry="1.8" fill="#a8a8a8" opacity="0.75"/>
<path d="M800,89 L811,89 L811.5,104 L810,106.5 L806.5,106 L806,93 L805,93 L804,104.5 L799.5,105 L798,104 L800,103.5 Z" fill="#111"/>
<path d="M798,76 C800.5,74.5 803,74 806,74 C809,74 811.5,74.5 813.5,75.5 L824.5,72 L825.5,76.5 L813.5,80 L812.5,91 L800,91 L799.5,83 C798,85 797.5,87 798.5,89.5 L797,90.5 C794.5,88 795,84 798,76 Z" fill="#111"/>
<ellipse cx="797" cy="90" rx="1.8" ry="1.5" fill="#fff" stroke="#555" stroke-width="0.4"/>
<path d="M824,71.5 C827,70 830,71 830,74 C830,77 828,79 826,78.5 C825,77 824,75 824,71.5 Z" fill="#fff" stroke="#444" stroke-width="0.5"/>
<path d="M803,74 L809,74 L806,77 Z" fill="#fff"/>
<path d="M805.2,75 L806.8,75 L807.3,82 L806,84 L804.7,82 Z" fill="#b01020"/>
<ellipse cx="806.5" cy="67.5" rx="6.3" ry="6.5" fill="#fff" stroke="#444" stroke-width="0.6"/>
<path d="M798,69 C796.5,64 797,59 801,56.5 C805,54.5 811,54.5 814.5,57 C816.5,58 817.5,57 817,59.5 C816.5,61 816.5,64 815,67 C814.5,64 813,62 810.5,61 C808,62 804,61 801.5,62.5 C800,64.5 799.5,67 798,69 Z" fill="#c4ae88" stroke="#8d7a5e" stroke-width="0.4"/>
<circle cx="804.2" cy="66" r="0.6" fill="#333"/><circle cx="808.2" cy="66" r="0.6" fill="#333"/>
<path d="M804.5,70.5 C805.5,69.5 807,69.5 808,70.5" fill="none" stroke="#333" stroke-width="0.6"/>
</g>
</svg>
</body></html>
